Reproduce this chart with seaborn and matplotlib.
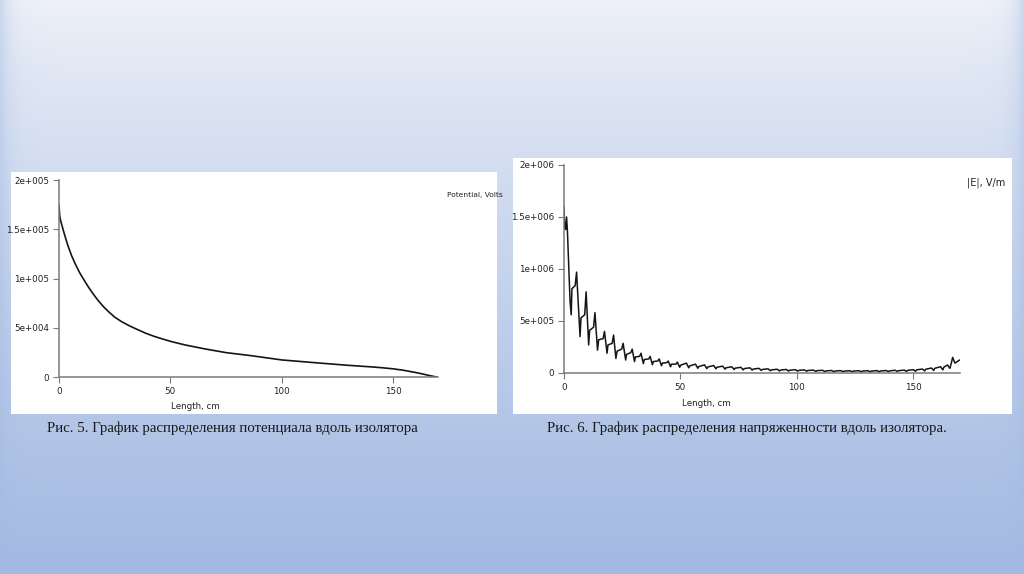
import numpy as np
import matplotlib
matplotlib.use('Agg')
import matplotlib.pyplot as plt
import seaborn as sns
from matplotlib.patches import Rectangle

# --- Fig. 5: potential along the insulator (kV) ---
pot_len = [0, 0.3, 0.6, 1.2, 2.0, 2.7, 4.0, 5.7, 7.5, 9.4, 11.0, 13.2, 15.5, 17.7,
           20.0, 22.2, 25.0, 28.1, 31.5, 35.6, 39.0, 43.1, 47.0, 50.6, 56.6, 65,
           75, 86, 100, 115, 130, 140, 145, 150, 155, 160, 163, 166, 168, 170]
pot_kv = [174.7, 164, 160, 155, 148.5, 143, 133.5, 123, 114, 105.5, 99.5, 91.5,
          84.0, 77.5, 71.5, 66.6, 61.0, 56.4, 52.3, 48.0, 44.6, 41.2, 38.5, 36.1,
          32.8, 29.0, 25.0, 22.0, 17.6, 14.8, 12.1, 10.6, 9.7, 8.6, 7.0, 4.9, 3.5,
          1.9, 1.0, 0]
pot_ticks = [0, 5e4, 1e5, 1.5e5, 2e5]
pot_tick_labels = ['0', '5e+004', '1e+005', '1.5e+005', '2e+005']

# --- Fig. 6: field strength |E| along the insulator (1e5 V/m) ---
e_len = [0.0, 0.3, 0.7, 1.1, 1.5, 2.6, 3.1, 3.4, 4.8, 5.4, 6.9, 7.3, 8.9, 9.5,
         10.6, 11.0, 12.7, 13.3, 14.4, 14.9, 16.8, 17.4, 18.5, 18.9, 20.7, 21.3,
         22.3, 22.8, 24.8, 25.4, 26.5, 26.9, 28.7, 29.3, 30.3, 30.7, 32.5, 33.1,
         34.1, 34.5, 36.4, 37.0, 38.0, 38.4, 40.3, 40.9, 41.9, 42.3, 44.2, 44.8,
         45.8, 46.2, 48.1, 48.7, 49.7, 50.1, 52.6, 53.6, 54.0, 56.5, 57.5, 57.9,
         60.4, 61.4, 61.8, 64.3, 65.3, 65.7, 68.2, 69.2, 69.6, 72.1, 73.1, 73.5,
         76.0, 77.0, 77.4, 79.9, 80.9, 81.3, 83.8, 84.8, 85.2, 87.7, 88.7, 89.1,
         91.6, 92.6, 93.0, 95.5, 96.5, 96.9, 99.4, 100.4, 100.8, 103.3, 104.3,
         104.7, 107.2, 108.2, 108.6, 111.1, 112.1, 112.5, 115.0, 116.0, 116.4,
         118.9, 119.9, 120.3, 122.8, 123.8, 124.2, 126.7, 127.7, 128.1, 130.6,
         131.6, 132.0, 134.5, 135.5, 135.9, 138.4, 139.4, 139.8, 142.3, 143.3,
         143.7, 146.2, 147.2, 147.6, 150.1, 151.1, 151.5, 154.0, 155.0, 155.4,
         157.9, 158.9, 159.3, 161.8, 162.8, 163.2, 164.8, 165.8, 166.4, 167.0,
         168.0, 170.0]
e_val = [16.0, 14.0, 13.8, 15.0, 13.5, 6.9, 5.6, 8.1, 8.4, 9.7, 3.5, 5.3, 5.6, 7.8,
         2.7, 4.1, 4.4, 5.8, 2.2, 3.2, 3.3, 4.0, 1.9, 2.7, 2.85, 3.65,
         1.4, 2.1, 2.3, 2.85, 1.25, 1.8, 1.95, 2.3, 1.1, 1.55, 1.6, 1.9,
         0.9, 1.3, 1.35, 1.6, 0.8, 1.1, 1.15, 1.35, 0.7, 0.95, 1.0, 1.15,
         0.6, 0.85, 0.85, 1.05, 0.55, 0.75, 0.95, 0.5, 0.68, 0.85, 0.45, 0.62,
         0.78, 0.42, 0.58, 0.72, 0.4, 0.55, 0.66, 0.37, 0.5, 0.6, 0.33, 0.46,
         0.55, 0.3, 0.42, 0.5, 0.28, 0.38, 0.45, 0.25, 0.34, 0.4, 0.22, 0.3,
         0.36, 0.2, 0.28, 0.34, 0.19, 0.26, 0.32, 0.18, 0.25, 0.3, 0.17,
         0.24, 0.28, 0.15, 0.22, 0.26, 0.13, 0.2, 0.24, 0.12, 0.19,
         0.23, 0.12, 0.18, 0.22, 0.11, 0.18, 0.22, 0.11, 0.18, 0.22,
         0.11, 0.18, 0.23, 0.12, 0.19, 0.24, 0.13, 0.2, 0.26, 0.14,
         0.22, 0.28, 0.15, 0.25, 0.32, 0.17, 0.3, 0.38, 0.2, 0.36,
         0.48, 0.25, 0.45, 0.6, 0.3, 0.55, 0.77, 0.45, 0.9, 1.5,
         0.95, 1.25]
e_ticks = [0, 5e5, 1e6, 1.5e6, 2e6]
e_tick_labels = ['0', '5e+005', '1e+006', '1.5e+006', '2e+006']

len_ticks = [0, 50, 100, 150]

captions = ['Рис. 5. График распределения потенциала вдоль изолятора',
            'Рис. 6. График распределения напряженности вдоль изолятора.']

sns.set_style('white')
plt.rcParams['font.family'] = ['DejaVu Sans']

W, H = 1024, 574
fig = plt.figure(figsize=(W / 100, H / 100), dpi=100)

# slide background: vertical gradient, slightly darker at the side edges
bg = fig.add_axes([0, 0, 1, 1], zorder=-10)
top = np.array([238, 241, 248]) / 255
bot = np.array([162, 185, 226]) / 255
t = (np.linspace(0, 1, H) ** 0.85)[:, None, None]
img = top + (bot - top) * t
xs = np.arange(W)
edge = (np.exp(-xs / 10) + np.exp(-(W - 1 - xs) / 10))[None, :, None]
img = img * (1 - 0.45 * edge) + bot * 0.45 * edge
bg.imshow(img, aspect='auto', extent=[0, 1, 0, 1])
bg.axis('off')

# white panels behind the two charts
fig.add_artist(Rectangle((11 / W, 1 - 414 / H), 486 / W, 242 / H, zorder=-5,
                         transform=fig.transFigure, facecolor='white', edgecolor='none'))
fig.add_artist(Rectangle((513 / W, 1 - 414 / H), 499 / W, 256 / H, zorder=-5,
                         transform=fig.transFigure, facecolor='white', edgecolor='none'))

def style_axis(ax, yticks, ylabels, xlabel_x, xlabel_y):
    ax.set_xlim(0, 170)
    ax.set_xticks(len_ticks)
    ax.set_xticklabels([str(v) for v in len_ticks])
    ax.set_yticks(yticks)
    ax.set_yticklabels(ylabels)
    ax.set_ylim(yticks[0], yticks[-1])
    ax.set_facecolor('none')
    for s in ['top', 'right']:
        ax.spines[s].set_visible(False)
    for s in ['left', 'bottom']:
        ax.spines[s].set_color('#7a7a7a')
        ax.spines[s].set_linewidth(1.1)
    ax.tick_params(axis='both', which='major', length=4, width=0.8, color='#7a7a7a',
                   labelsize=6.3, labelcolor='#222222', direction='out', pad=3)
    ax.tick_params(left=True, bottom=True)
    ax.set_xlabel('Length, cm', fontsize=6.3, color='#222222')
    ax.xaxis.set_label_coords(xlabel_x, xlabel_y)
    ax.set_ylabel('')

# Fig. 5 axes
ax1 = fig.add_axes([59 / W, 1 - 377.3 / H, 378.7 / W, 197.3 / H])
sns.lineplot(x=pot_len, y=[v * 1e3 for v in pot_kv], ax=ax1, color='#151515',
             linewidth=1.2, estimator=None, sort=False)
style_axis(ax1, pot_ticks, pot_tick_labels, 0.361, -0.125)
fig.text(447 / W, 1 - 195 / H, 'Potential, Volts', fontsize=5.4, color='#222222',
         ha='left', va='center')

# Fig. 6 axes
ax2 = fig.add_axes([564 / W, 1 - 373 / H, 395.6 / W, 208 / H])
sns.lineplot(x=e_len, y=[v * 1e5 for v in e_val], ax=ax2, color='#151515',
             linewidth=1.1, estimator=None, sort=False)
style_axis(ax2, e_ticks, e_tick_labels, 0.36, -0.125)
fig.text(967 / W, 1 - 183 / H, '|E|, V/m', fontsize=7.0, color='#222222',
         ha='left', va='center')

# captions under the panels
fig.text(47 / W, 1 - 428 / H, captions[0], family='Liberation Serif', fontsize=10.75,
         color='#1a1a1a', ha='left', va='center')
fig.text(547 / W, 1 - 428 / H, captions[1], family='Liberation Serif', fontsize=10.75,
         color='#1a1a1a', ha='left', va='center')

fig.savefig('out.png', dpi=100)
